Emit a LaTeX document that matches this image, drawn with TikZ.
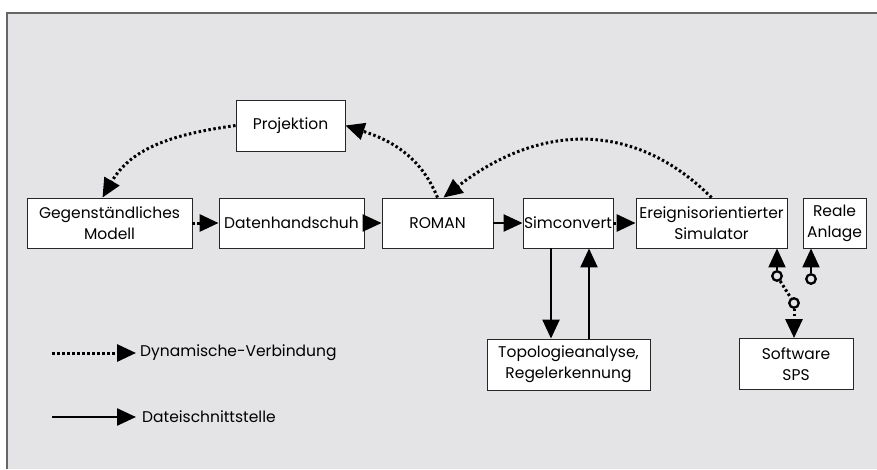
\documentclass[tikz,border=0pt]{standalone}
\usepackage{fontspec}
\setmainfont{Poppins}
\usetikzlibrary{arrows.meta}
\definecolor{bg}{RGB}{228,228,230}
\tikzset{
  box/.style={draw=black!85,line width=0.9pt,fill=white,inner sep=0pt,align=center,font=\fontsize{15.5}{21}\selectfont},
  solidarr/.style={line width=2.4pt,-{Triangle[length=19pt 0,width=17pt 0]}},
  dotline/.style={line width=3pt,dash pattern=on 2.5pt off 2.5pt},
  dotarr/.style={dotline,-{Triangle[length=19pt 0,width=17pt 0]}},
  circ/.style={circle,draw=black,line width=2.3pt,fill=bg,minimum size=9.5pt,inner sep=0pt},
  legtxt/.style={anchor=west,inner sep=0pt,font=\fontsize{15.5}{18}\selectfont}
}
\begin{document}
\begin{tikzpicture}[x=1pt,y=1pt]
\useasboundingbox (0,0) rectangle (877,-469);
\fill[bg] (7,-13) rectangle (877,-469);
\draw[black!60,line width=1.3pt] (7,-469) -- (7,-13) -- (877,-13);

\node[box,minimum width=109pt,minimum height=51pt] (proj) at (290.5,-125.5) {Projektion};
\node[box,minimum width=165pt,minimum height=50pt] (modell) at (109.5,-223) {Gegenständliches\\Modell};
\node[box,minimum width=145pt,minimum height=50pt] (daten) at (291.5,-223) {Datenhandschuh};
\node[box,minimum width=111pt,minimum height=50pt] (roman) at (437.5,-223) {ROMAN};
\node[box,minimum width=90pt,minimum height=50pt] (simc) at (568,-223) {Simconvert};
\node[box,minimum width=151pt,minimum height=50pt] (ereig) at (711.5,-223) {Ereignisorientierter\\Simulator};
\node[box,minimum width=63pt,minimum height=50pt] (reale) at (834.5,-223) {Reale\\Anlage};
\node[box,minimum width=163pt,minimum height=51pt] (topo) at (568.5,-364.5) {Topologieanalyse,\\Regelerkennung};
\node[box,minimum width=114pt,minimum height=51pt] (sps) at (796,-364) {Software\\SPS};

% horizontal chain
\draw[dotarr] (modell) -- (daten);
\draw[solidarr] (daten) -- (roman);
\draw[solidarr] (roman) -- (simc);
\draw[dotarr] (simc) -- (ereig);

% curved dynamic links
\draw[dotarr] (roman.north) to[out=112,in=-18] (proj.east);
\draw[dotarr] (proj.west) to[out=188,in=60] ([xshift=-7pt]modell.north);
\draw[dotarr] (ereig.north) to[out=135,in=38,looseness=1.1] ([xshift=6pt]roman.north);

% Simconvert <-> Topologie
\draw[solidarr] ([xshift=-17pt]simc.south) -- ([xshift=-17.5pt]topo.north);
\draw[solidarr] ([xshift=20.5pt]topo.north) -- ([xshift=21pt]simc.south);

% Simulator <-> SPS, Reale Anlage
\node[circ] (c1) at (777,-276) {};
\node[circ] (c2) at (794,-303) {};
\node[circ] (c3) at (811,-279) {};
\draw[dotline] (c1) -- (c2);
\draw[solidarr,line width=2pt] (c1) -- (c1 |- ereig.south);
\draw[dotarr] (c2) -- (c2 |- sps.north);
\draw[solidarr,line width=2pt] (c3) -- (c3 |- reale.south);

% legend
\node[legtxt] (l1) at (140,-353) {Dynamische-Verbindung};
\node[legtxt] (l2) at (142,-417) {Dateischnittstelle};
\coordinate (l1s) at (52,-353);
\coordinate (l2s) at (52,-417);
\draw[dotarr] (l1s) -- ([xshift=-4pt]l1.west);
\draw[solidarr] (l2s) -- ([xshift=-6pt]l2.west);
\end{tikzpicture}
\end{document}
